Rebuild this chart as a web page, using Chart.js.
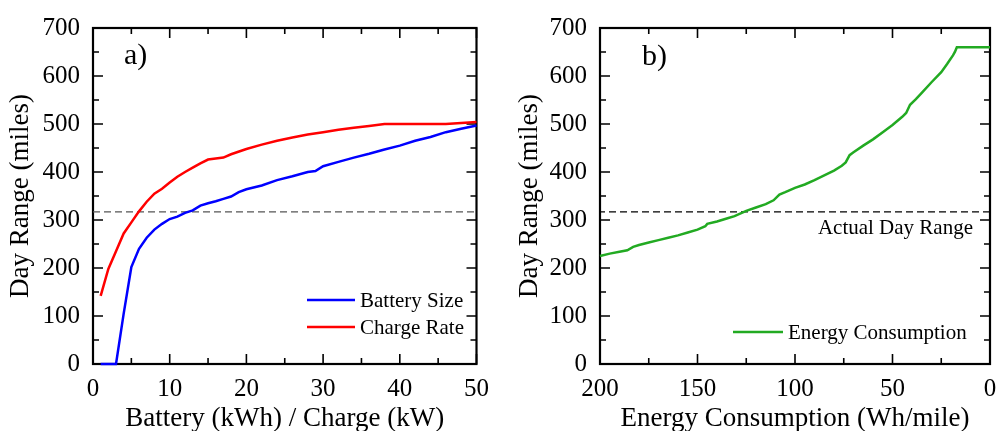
<!DOCTYPE html>
<html><head><meta charset="utf-8">
<script src="https://cdn.jsdelivr.net/npm/chart.js@4.4.0/dist/chart.umd.min.js"></script>
<style>
html,body{margin:0;padding:0;background:#fff;overflow:hidden}
#wrap{position:relative;width:998px;height:431px}
canvas{position:absolute;top:0}
</style></head><body>
<div id="wrap">
<canvas id="ca" width="499" height="431" style="left:0"></canvas>
<canvas id="cb" width="499" height="431" style="left:499px"></canvas>
</div>
<script>
// ---- data ----
const batteryX = [1,3,4,5,6,7,8,9,10,11,12,13,14,15,16,17,18,19,20,22,24,26,28,29,30,32,34,36,38,40,42,44,46,48,50];
const batteryRange = [0,0,105,202,240,263,280,292,302,307,315,320,330,335,339,344,349,358,364,372,383,391,400,402,412,421,430,438,447,455,465,473,483,490,497];
const chargeX = [1,2,3,4,5,6,7,8,9,10,11,12,13,14,15,16,17,18,20,22,24,26,28,30,32,34,36,38,40,42,44,46,48,50];
const chargeRange = [142,198,235,272,295,318,338,355,365,378,390,400,409,418,426,428,430,437,448,457,465,472,478,483,488,492,496,500,500,500,500,500,502,504];
const energyX = [200,195,190,186,183,180,175,170,165,160,155,150,146,145,140,135,131,125,120,115,111,108,105,100,95,90,85,80,76,74,72,70,65,60,55,50,45,43,41,38,35,30,25,22,19,18,17,10,5,0];
const energyRange = [225,230,234,237,244,248,253,258,263,268,274,280,287,292,297,303,308,319,326,333,341,353,358,367,374,383,393,403,413,420,435,441,455,468,483,498,515,523,540,552,565,587,608,625,643,650,660,660,660,660];
const actualDayRange = 317;
const rangeTicks = [0,100,200,300,400,500,600,700];
const batteryTicks = [0,10,20,30,40,50];
const energyTicks = [0,50,100,150,200];

const FONT = 'Liberation Serif';
const pts = (xs, ys) => xs.map((x, i) => ({x, y: ys[i]}));

const framePlugin = {
  id: 'frame',
  beforeDatasetsDraw(chart, args, o) {
    const {ctx, chartArea: a, scales: {x, y}} = chart;
    ctx.save();
    ctx.strokeStyle = '#000';
    ctx.lineWidth = 1.6;
    ctx.beginPath();
    const isMajor = (v, step) => Math.abs(v / step - Math.round(v / step)) < 1e-6;
    for (let v = Math.min(x.min, x.max); v <= Math.max(x.min, x.max) + 1e-9; v += o.xMinor) {
      const px = x.getPixelForValue(v);
      const L = isMajor(v, o.xMajor) ? 10 : 6;
      ctx.moveTo(px, a.bottom); ctx.lineTo(px, a.bottom - L);
      ctx.moveTo(px, a.top); ctx.lineTo(px, a.top + L);
    }
    for (let v = y.min; v <= y.max + 1e-9; v += o.yMinor) {
      const py = y.getPixelForValue(v);
      const L = isMajor(v, o.yMajor) ? 10 : 6;
      ctx.moveTo(a.left, py); ctx.lineTo(a.left + L, py);
      ctx.moveTo(a.right, py); ctx.lineTo(a.right - L, py);
    }
    ctx.stroke();
    ctx.lineWidth = 2.2;
    ctx.strokeRect(a.left, a.top, a.right - a.left, a.bottom - a.top);
    ctx.restore();
  },
  afterDatasetsDraw(chart, args, o) {
    const {ctx} = chart;
    ctx.save();
    ctx.fillStyle = '#000';
    ctx.textBaseline = 'middle';
    ctx.font = '30px "' + FONT + '"';
    ctx.textAlign = 'left';
    ctx.fillText(o.panel, o.panelX, o.panelY);
    // legend
    ctx.font = '21px "' + FONT + '"';
    o.legend.forEach((it) => {
      const ds = chart.data.datasets[it.index];
      ctx.strokeStyle = ds.borderColor;
      ctx.lineWidth = 2.5;
      ctx.beginPath();
      ctx.moveTo(it.x0, it.y); ctx.lineTo(it.x1, it.y);
      ctx.stroke();
      ctx.fillText(ds.label, it.x1 + 5, it.y + 1);
    });
    if (o.note) {
      ctx.textAlign = 'right';
      ctx.fillText(o.note.text, o.note.x, o.note.y);
    }
    ctx.restore();
  }
};

function makeChart(id, cfg) {
  return new Chart(document.getElementById(id), {
    type: 'line',
    data: {datasets: cfg.datasets},
    options: {
      responsive: false, animation: false, devicePixelRatio: 1,
      layout: {padding: {top: 22, right: cfg.padRight, bottom: 0, left: 0}},
      elements: {point: {radius: 0}, line: {tension: 0}},
      plugins: {legend: {display: false}, tooltip: {enabled: false}, frame: cfg.frame},
      scales: {
        x: {
          type: 'linear', min: cfg.xMin, max: cfg.xMax, reverse: cfg.reverse,
          afterFit: s => { s.height = 67; },
          afterBuildTicks: s => { s.ticks = cfg.xTicks.map(v => ({value: v})); },
          grid: {display: false, drawTicks: false}, border: {display: false},
          ticks: {color: '#000', padding: 10, maxRotation: 0, font: {family: FONT, size: 25}},
          title: {display: true, text: cfg.xTitle, color: '#000', padding: {top: 0, bottom: -4}, font: {family: FONT, size: 27}}
        },
        y: {
          type: 'linear', min: 0, max: 700,
          afterFit: s => { s.width = cfg.yWidth; },
          afterBuildTicks: s => { s.ticks = rangeTicks.map(v => ({value: v})); },
          grid: {display: false, drawTicks: false}, border: {display: false},
          ticks: {color: '#000', padding: 13, font: {family: FONT, size: 25}},
          title: {display: true, text: 'Day Range (miles)', color: '#000', padding: {top: cfg.yTitlePad, bottom: 0}, font: {family: FONT, size: 27}}
        }
      }
    },
    plugins: [framePlugin]
  });
}

makeChart('ca', {
  padRight: 15, yWidth: 93, yTitlePad: 5,
  xMin: 0, xMax: 50, reverse: false, xTicks: batteryTicks,
  xTitle: 'Battery (kWh) / Charge (kW)',
  datasets: [
    {label: 'Battery Size', data: pts(batteryX, batteryRange), borderColor: '#0000ff', borderWidth: 2.5, clip: 4},
    {label: 'Charge Rate', data: pts(chargeX, chargeRange), borderColor: '#ff0000', borderWidth: 2.5, clip: 4},
    {label: 'Actual', data: pts([0, 50], [actualDayRange, actualDayRange]), borderColor: '#555555', borderWidth: 1.3, borderDash: [7, 4]}
  ],
  frame: {xMinor: 5, xMajor: 10, yMinor: 50, yMajor: 100, panel: 'a)', panelX: 124, panelY: 56,
    legend: [{index: 0, x0: 307, x1: 355, y: 300}, {index: 1, x0: 307, x1: 355, y: 327}]}
});

makeChart('cb', {
  padRight: 8, yWidth: 101, yTitlePad: 15,
  xMin: 0, xMax: 200, reverse: true, xTicks: energyTicks,
  xTitle: 'Energy Consumption (Wh/mile)',
  datasets: [
    {label: 'Energy Consumption', data: pts(energyX, energyRange), borderColor: '#22aa22', borderWidth: 2.5, clip: 4},
    {label: 'Actual', data: pts([0, 200], [actualDayRange, actualDayRange]), borderColor: '#000000', borderWidth: 1.2, borderDash: [7, 4]}
  ],
  frame: {xMinor: 25, xMajor: 50, yMinor: 50, yMajor: 100, panel: 'b)', panelX: 143, panelY: 57,
    legend: [{index: 0, x0: 234, x1: 284, y: 332}],
    note: {text: 'Actual Day Range', x: 474, y: 228}}
});
</script>
</body></html>
